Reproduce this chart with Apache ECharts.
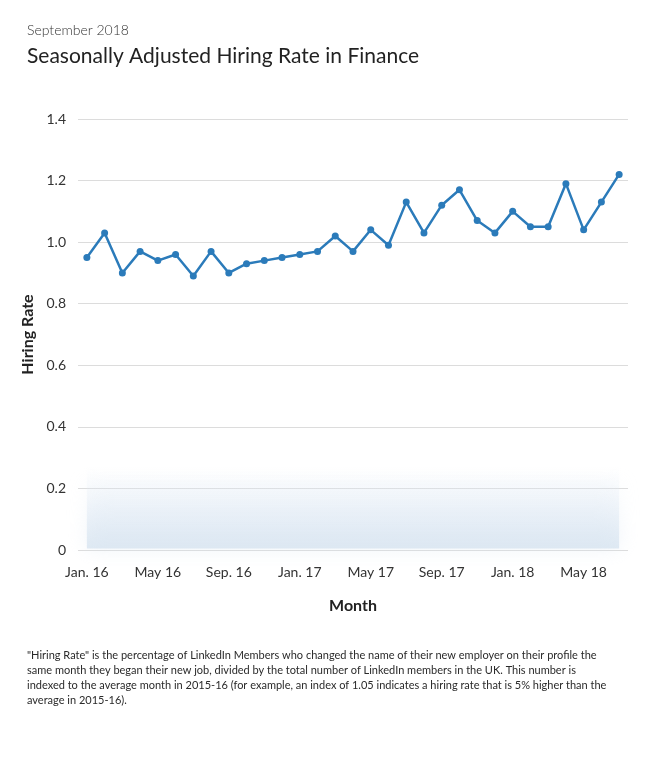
<!DOCTYPE html>
<html>
<head>
<meta charset="utf-8">
<script src="https://cdn.jsdelivr.net/npm/echarts@6/dist/echarts.min.js"></script>
<style>
  html, body { margin: 0; padding: 0; background: #fff; }
  #chart { width: 650px; height: 767px; }
</style>
</head>
<body>
<div id="chart"></div>
<script>
// months Jan 2016 .. Jul 2018
const months = [
  'Jan. 16', 'Feb. 16', 'Mar. 16', 'Apr. 16', 'May 16', 'Jun. 16', 'Jul. 16', 'Aug. 16',
  'Sep. 16', 'Oct. 16', 'Nov. 16', 'Dec. 16', 'Jan. 17', 'Feb. 17', 'Mar. 17', 'Apr. 17',
  'May 17', 'Jun. 17', 'Jul. 17', 'Aug. 17', 'Sep. 17', 'Oct. 17', 'Nov. 17', 'Dec. 17',
  'Jan. 18', 'Feb. 18', 'Mar. 18', 'Apr. 18', 'May 18', 'Jun. 18', 'Jul. 18'
]
const hiringRate = [
  0.95, 1.03, 0.90, 0.97, 0.94, 0.96, 0.89, 0.97,
  0.90, 0.93, 0.94, 0.95, 0.96, 0.97, 1.02, 0.97,
  1.04, 0.99, 1.13, 1.03, 1.12, 1.17, 1.07, 1.03,
  1.10, 1.05, 1.05, 1.19, 1.04, 1.13, 1.22
]
const yTicks = [0, 0.2, 0.4, 0.6, 0.8, 1.0, 1.2, 1.4]

const note = [
  '"Hiring Rate" is the percentage of LinkedIn Members who changed the name of their new employer on their profile the',
  'same month they began their new job, divided by the total number of LinkedIn members in the UK. This number is',
  'indexed to the average month in 2015-16 (for example, an index of 1.05 indicates a hiring rate that is 5% higher than the',
  'average in 2015-16).'
]

const font = 'Lato, "Open Sans", sans-serif'

let option = {
  animation: false,
  title: [
    {
      text: 'September 2018',
      left: 22, top: 18,
      textStyle: { fontFamily: font, fontSize: 14, fontWeight: 300, color: '#333' }
    },
    {
      text: 'Seasonally Adjusted Hiring Rate in Finance',
      left: 22, top: 41,
      textStyle: { fontFamily: font, fontSize: 21, fontWeight: 'normal', color: '#222' }
    },
    {
      text: note.join('\n'),
      left: 22, top: 643,
      textStyle: { fontFamily: font, fontSize: 11, fontWeight: 'normal', color: '#2a2a2a', lineHeight: 15 }
    }
  ],
  grid: { left: 78, right: 22, top: 119, bottom: 217 },
  xAxis: {
    type: 'category',
    data: months,
    boundaryGap: true,
    name: 'Month',
    nameLocation: 'middle',
    nameGap: 48,
    nameTextStyle: { fontFamily: font, fontSize: 16, fontWeight: 'bold', color: '#222' },
    axisLine: { show: false },
    axisTick: { show: false },
    axisLabel: {
      interval: 3,
      margin: 15,
      fontFamily: font, fontSize: 14, color: '#333'
    },
    splitLine: { show: false }
  },
  yAxis: {
    type: 'value',
    min: yTicks[0],
    max: yTicks[yTicks.length - 1],
    interval: 0.2,
    name: 'Hiring Rate',
    nameLocation: 'middle',
    nameGap: 42,
    nameTextStyle: { fontFamily: font, fontSize: 16, fontWeight: 'bold', color: '#222' },
    axisLine: { show: false },
    axisTick: { show: false },
    axisLabel: {
      margin: 12,
      fontFamily: font, fontSize: 14, color: '#333',
      formatter: v => (v === 0 ? '0' : v.toFixed(1))
    },
    splitLine: { lineStyle: { color: '#dcdcdc', width: 1 } }
  },
  series: [
    {
      type: 'line',
      data: hiringRate,
      symbol: 'circle',
      symbolSize: 7,
      lineStyle: { color: '#2b7bba', width: 2.5 },
      itemStyle: { color: '#2b7bba' },
      markArea: {
        silent: true,
        itemStyle: {
          color: new echarts.graphic.LinearGradient(0, 0, 0, 1, [
            { offset: 0, color: 'rgba(228,237,246,0.0)' },
            { offset: 0.5, color: 'rgba(220,231,243,0.4)' },
            { offset: 1, color: 'rgba(212,226,239,0.75)' }
          ]),
          shadowBlur: 18,
          shadowColor: 'rgba(215,228,241,0.6)'
        },
        data: [[{ xAxis: months[0], yAxis: 0.005 }, { xAxis: months[months.length - 1], yAxis: 0.27 }]]
      }
    }
  ]
}

var myChart = echarts.init(document.getElementById('chart'), null, { renderer: 'canvas' })
myChart.setOption(option, true)
</script>
</body>
</html>
